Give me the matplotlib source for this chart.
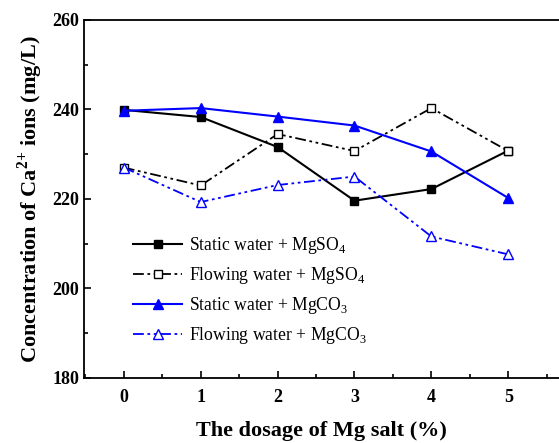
import matplotlib
matplotlib.use("Agg")
import matplotlib.pyplot as plt
from matplotlib.ticker import MultipleLocator

dosage = [0, 1, 2, 3, 4, 5]
static_mgso4 = [239.9, 238.3, 231.6, 219.6, 222.2, 230.8]
flowing_mgso4 = [227.0, 223.0, 234.5, 230.7, 240.3, 230.7]
static_mgco3 = [239.7, 240.3, 238.4, 236.4, 230.6, 220.2]
flowing_mgco3 = [227.0, 219.3, 223.1, 225.0, 211.6, 207.6]
labels = ["Static water + MgSO$_4$", "Flowing water + MgSO$_4$",
          "Static water + MgCO$_3$", "Flowing water + MgCO$_3$"]

plt.rcParams['font.family'] = ['Liberation Serif', 'DejaVu Serif']
plt.rcParams['mathtext.fontset'] = 'custom'
plt.rcParams['mathtext.rm'] = 'Liberation Serif'
plt.rcParams['mathtext.bf'] = 'Liberation Serif:bold'

fig = plt.figure(figsize=(5.59, 4.43), dpi=100)
ax = fig.add_axes([0.150, 0.147, 0.85, 0.808])

dd = (6, 2, 1.5, 2, 1.5, 2)
ax.plot(dosage, static_mgso4, color='black', lw=1.5, marker='s', ms=6,
        mfc='black', mec='black', label=labels[0])
ax.plot(dosage, flowing_mgso4, color='black', lw=1.3, marker='s', ms=6,
        mfc='white', mec='black', dashes=dd, label=labels[1])
ax.plot(dosage, static_mgco3, color='blue', lw=1.5, marker='^', ms=7,
        mfc='blue', mec='blue', label=labels[2])
ax.plot(dosage, flowing_mgco3, color='blue', lw=1.3, marker='^', ms=7,
        mfc='white', mec='blue', dashes=dd, label=labels[3])

ax.set_xlim(-0.52, 5.66)
ax.set_ylim(180, 260)
ax.xaxis.set_major_locator(MultipleLocator(1))
ax.xaxis.set_minor_locator(MultipleLocator(0.5))
ax.yaxis.set_major_locator(MultipleLocator(20))
ax.yaxis.set_minor_locator(MultipleLocator(10))
ax.tick_params(which='both', direction='in', width=1.2, labelsize=13)
ax.tick_params(which='major', length=5)
ax.tick_params(which='minor', length=3)
ax.tick_params(axis='x', pad=8)
for lab in ax.get_xticklabels() + ax.get_yticklabels():
    lab.set_fontweight('bold')
for s in ['left', 'bottom', 'top']:
    ax.spines[s].set_linewidth(1.3)
ax.spines['right'].set_visible(False)

ax.set_xlabel('The dosage of Mg salt (%)', fontsize=16, fontweight='bold', labelpad=11)
ax.set_ylabel('Concentration of Ca$^{\\mathbf{2{+}}}$ ions (mg/L)', fontsize=16,
              fontweight='bold', labelpad=5)

ax.legend(loc='lower left', bbox_to_anchor=(0.07, 0.045), frameon=False,
          fontsize=12.7, handlelength=2.8, labelspacing=0.5, handletextpad=0.4)

fig.savefig('out.png', dpi=100)
